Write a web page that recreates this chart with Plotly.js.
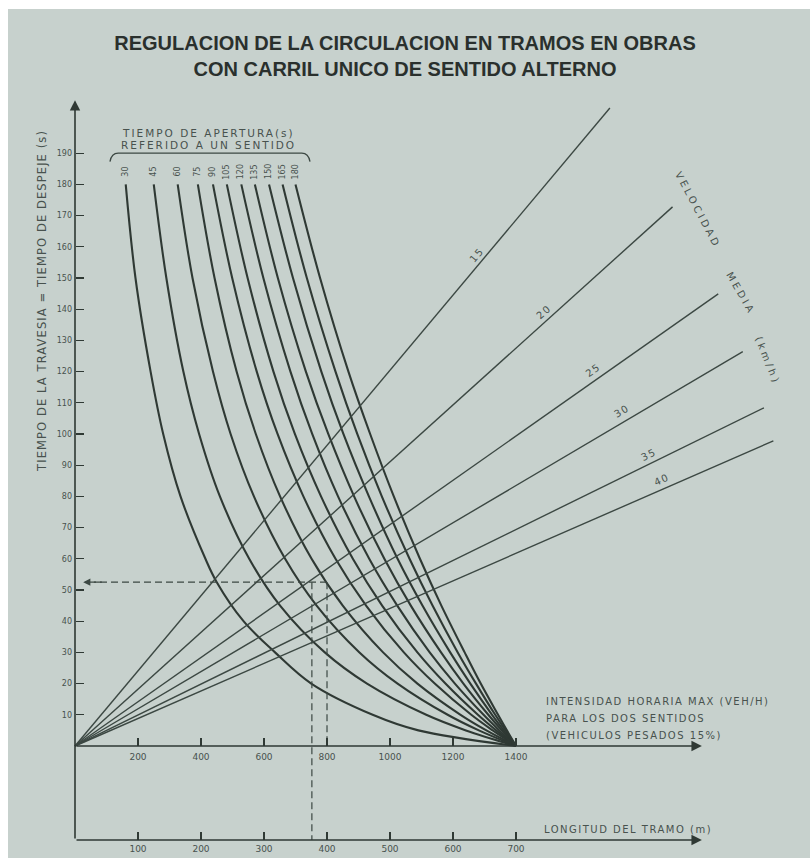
<!DOCTYPE html>
<html>
<head>
<meta charset="utf-8">
<script src="https://cdn.plot.ly/plotly-3.0.1.min.js"></script>
<style>html,body{margin:0;padding:0;background:#ffffff;}</style>
</head>
<body>
<div id="chart" style="width:810px;height:858px;"></div>
<script>
// ---------- data ----------
const openingTimes = [30, 45, 60, 75, 90, 105, 120, 135, 150, 165, 180];   // s
const tLevels = [180, 150, 120, 100, 80, 60, 45, 30, 20, 10, 5, 0];          // s
const t30 = [180, 150, 120, 100, 80, 60, 52.5, 40, 30, 20, 10, 5, 0];
const q30  = [161, 192, 240, 280, 335, 414, 450, 535, 635, 750, 945, 1090, 1400];
const q45  = [250, 290, 344, 394, 460, 553, 651, 793, 927, 1115, 1241, 1400];
const q60  = [326, 373, 438, 494, 568, 667, 767, 903, 1024, 1183, 1282, 1400];
const q75  = [390, 443, 513, 574, 651, 751, 850, 978, 1087, 1224, 1306, 1400];
const q90  = [438, 499, 577, 643, 725, 827, 924, 1044, 1142, 1258, 1326, 1400];
const q105 = [482, 548, 630, 698, 781, 882, 975, 1087, 1176, 1279, 1337, 1400];
const q120 = [528, 598, 684, 753, 835, 934, 1023, 1126, 1206, 1297, 1347, 1400];
const q135 = [571, 644, 733, 804, 886, 982, 1066, 1162, 1233, 1312, 1355, 1400];
const q150 = [616, 692, 782, 852, 933, 1024, 1103, 1191, 1255, 1324, 1361, 1400];
const q165 = [659, 736, 827, 896, 974, 1062, 1135, 1215, 1273, 1334, 1367, 1400];
const q180 = [700, 778, 868, 937, 1012, 1095, 1163, 1237, 1288, 1343, 1371, 1400];

const velocities = [15, 20, 25, 30, 35, 40];                 // km/h
const velEndQ = [1698, 1897, 2042, 2120, 2187, 2217];        // veh/h at line end
const velEndT = [204.5, 172.8, 144.9, 126.4, 108.4, 97.8];   // s at line end
const velLabelQ = [1277, 1490, 1643, 1738, 1822, 1863];
const velLabelT = [157.4, 139.2, 120.5, 107.4, 93.3, 85.3];

const tTicks = [10, 20, 30, 40, 50, 60, 70, 80, 90, 100, 110, 120, 130, 140, 150, 160, 170, 180, 190];
const qTicks = [200, 400, 600, 800, 1000, 1200, 1400];
const lTicks = [100, 200, 300, 400, 500, 600, 700];

const exampleT = 52.5;     // s
const exampleQ = 800;      // veh/h
const exampleL = 376;      // m

// ---------- drawing ----------
const X0 = -238.1, X1 = 2333.3, Y0 = -35.9, Y1 = 239.1;
const W = 810, H = 858;
const pxX = W / (X1 - X0), pxY = H / (Y1 - Y0);
const INK = '#2f3934';
const INK2 = '#3c4843';
const LBL = '#48524e';
const BG = '#c7d1cd';
const FONT = 'DejaVu Sans, Verdana, sans-serif';
const yBottom = -30.13;

const curveQ = [q30, q45, q60, q75, q90, q105, q120, q135, q150, q165, q180];
const traces = [];
curveQ.forEach((q, i) => {
  traces.push({
    type: 'scatter', mode: 'lines', x: q, y: i === 0 ? t30 : tLevels,
    line: {color: INK, width: 2.1, shape: 'spline', smoothing: 1},
    hoverinfo: 'skip', name: 'g=' + openingTimes[i]
  });
});
velocities.forEach((v, i) => {
  traces.push({
    type: 'scatter', mode: 'lines', x: [0, velEndQ[i]], y: [0, velEndT[i]],
    line: {color: INK2, width: 1.4}, hoverinfo: 'skip', name: v + ' km/h'
  });
});
// example dashed lines
traces.push({type: 'scatter', mode: 'lines', x: [exampleQ, 60], y: [exampleT, exampleT],
  line: {color: INK2, width: 1.2, dash: '7px,4px'}, hoverinfo: 'skip'});
traces.push({type: 'scatter', mode: 'lines', x: [exampleQ, exampleQ], y: [exampleT, 0],
  line: {color: INK2, width: 1.2, dash: '7px,4px'}, hoverinfo: 'skip'});
traces.push({type: 'scatter', mode: 'lines', x: [exampleL, exampleL], y: [exampleT, yBottom],
  xaxis: 'x2', yaxis: 'y',
  line: {color: INK2, width: 1.2, dash: '7px,4px'}, hoverinfo: 'skip'});

const sp = (s, txt) => '<span style="letter-spacing:' + s + 'px">' + txt + '</span>';

const annotations = [];
// axis lines with arrowheads
annotations.push({x: 0, y: 207, ax: 0, ay: yBottom, axref: 'x', ayref: 'y', xref: 'x', yref: 'y',
  showarrow: true, arrowhead: 2, arrowsize: 1.3, arrowwidth: 1.6, arrowcolor: INK, text: ''});
annotations.push({x: 1990, y: 0, ax: 0, ay: 0, axref: 'x', ayref: 'y', xref: 'x', yref: 'y',
  showarrow: true, arrowhead: 2, arrowsize: 1.3, arrowwidth: 1.6, arrowcolor: INK, text: ''});
annotations.push({x: 1990, y: yBottom, ax: 0, ay: yBottom, axref: 'x', ayref: 'y', xref: 'x', yref: 'y',
  showarrow: true, arrowhead: 2, arrowsize: 1.3, arrowwidth: 1.6, arrowcolor: INK, text: ''});
// dashed arrow head towards the time axis
annotations.push({x: 26, y: exampleT, ax: 90, ay: exampleT, axref: 'x', ayref: 'y', xref: 'x', yref: 'y',
  showarrow: true, arrowhead: 2, arrowsize: 1.2, arrowwidth: 1.2, arrowcolor: INK2, text: ''});

// opening-time labels
openingTimes.forEach((g, i) => {
  annotations.push({x: curveQ[i][0], y: 184, xref: 'x', yref: 'y', text: String(g), textangle: -90,
    showarrow: false, font: {family: FONT, size: 8, color: LBL}});
});
annotations.push({x: 425, y: 196.6, xref: 'x', yref: 'y', showarrow: false,
  text: sp(2, 'TIEMPO DE APERTURA(s)'), font: {family: FONT, size: 10.5, color: LBL}});
annotations.push({x: 425, y: 192.6, xref: 'x', yref: 'y', showarrow: false,
  text: sp(2, 'REFERIDO A UN SENTIDO'), font: {family: FONT, size: 10.5, color: LBL}});

// velocity labels
velocities.forEach((v, i) => {
  const ang = Math.atan((velEndT[i] / velEndQ[i]) * pxY / pxX) * 180 / Math.PI;
  annotations.push({x: velLabelQ[i], y: velLabelT[i], xref: 'x', yref: 'y', text: sp(1.5, String(v)),
    textangle: -ang, showarrow: false, font: {family: FONT, size: 10, color: LBL}});
});
annotations.push({x: 1976, y: 171.8, xref: 'x', yref: 'y', text: sp(3, 'VELOCIDAD'), textangle: 62,
  showarrow: false, font: {family: FONT, size: 10, color: LBL}});
annotations.push({x: 2114, y: 145.0, xref: 'x', yref: 'y', text: sp(3, 'MEDIA'), textangle: 60,
  showarrow: false, font: {family: FONT, size: 10, color: LBL}});
annotations.push({x: 2200, y: 123.7, xref: 'x', yref: 'y', text: sp(3, '(km/h)'), textangle: 68,
  showarrow: false, font: {family: FONT, size: 10, color: LBL}});

// axis captions
annotations.push({x: 1489, y: 14.2, xref: 'x', yref: 'y', xanchor: 'left', showarrow: false,
  text: sp(1.5, 'INTENSIDAD HORARIA MAX (VEH/H)'), font: {family: FONT, size: 10, color: LBL}});
annotations.push({x: 1489, y: 8.9, xref: 'x', yref: 'y', xanchor: 'left', showarrow: false,
  text: sp(1.5, 'PARA LOS DOS SENTIDOS'), font: {family: FONT, size: 10, color: LBL}});
annotations.push({x: 1489, y: 3.5, xref: 'x', yref: 'y', xanchor: 'left', showarrow: false,
  text: sp(1.5, '(VEHICULOS PESADOS 15%)'), font: {family: FONT, size: 10, color: LBL}});
annotations.push({x: 1482, y: -26.9, xref: 'x', yref: 'y', xanchor: 'left', showarrow: false,
  text: sp(1.5, 'LONGITUD DEL TRAMO (m)'), font: {family: FONT, size: 10, color: LBL}});
annotations.push({x: -103, y: 142.5, xref: 'x', yref: 'y', textangle: -90, showarrow: false,
  text: sp(1.1, 'TIEMPO DE LA TRAVESIA = TIEMPO DE DESPEJE (s)'), font: {family: FONT, size: 11.5, color: LBL}});

const tickFont = {family: FONT, size: 9, color: LBL};
const layout = {
  width: W, height: H,
  margin: {l: 0, r: 0, t: 0, b: 0, pad: 0},
  paper_bgcolor: '#ffffff',
  plot_bgcolor: 'rgba(0,0,0,0)',
  showlegend: false,
  title: {
    text: 'REGULACION DE LA CIRCULACION EN TRAMOS EN OBRAS<br>CON CARRIL UNICO DE SENTIDO ALTERNO',
    x: 0.5, xanchor: 'center', y: 1 - 50 / H, yanchor: 'top', yref: 'container',
    font: {family: 'Liberation Sans, Arial, sans-serif', size: 20, color: '#2a302d', weight: 'bold'}
  },
  xaxis: {
    range: [X0, X1], anchor: 'free', position: (H - 746) / H,
    tickvals: qTicks, ticktext: qTicks.map(String), ticks: 'inside', ticklen: 8, tickwidth: 1.3, tickcolor: INK,
    showgrid: false, zeroline: false, showline: false, tickfont: tickFont, fixedrange: true, automargin: false,
    ticklabelstandoff: 4
  },
  xaxis2: {
    range: [X0 / 2, X1 / 2], overlaying: 'x', anchor: 'free', position: (H - 840) / H, side: 'bottom',
    tickvals: lTicks, ticktext: lTicks.map(String), ticks: 'inside', ticklen: 8, tickwidth: 1.3, tickcolor: INK,
    showgrid: false, zeroline: false, showline: false, tickfont: tickFont, fixedrange: true, automargin: false,
    ticklabelstandoff: 2
  },
  yaxis: {
    range: [Y0, Y1], anchor: 'free', position: 75 / W, side: 'left',
    tickvals: tTicks, ticktext: tTicks.map(String), ticks: 'inside', ticklen: 8, tickwidth: 1.3, tickcolor: INK,
    showgrid: false, zeroline: false, showline: false, tickfont: {family: FONT, size: 8, color: LBL},
    fixedrange: true, automargin: false, ticklabelstandoff: 3
  },
  shapes: [
    {type: 'rect', xref: 'paper', yref: 'paper', x0: 8 / W, x1: 1, y0: 0, y1: 1 - 9 / H,
      fillcolor: BG, line: {width: 0}, layer: 'below'},
    {type: 'path', xref: 'x', yref: 'y', layer: 'above',
      path: 'M 111,187.3 Q 116,190 137,190 L 720,190 Q 741,190 746,187.3',
      line: {color: INK2, width: 1.3}}
  ],
  annotations: annotations
};

Plotly.newPlot('chart', traces, layout, {staticPlot: true, displayModeBar: false});
</script>
</body>
</html>
